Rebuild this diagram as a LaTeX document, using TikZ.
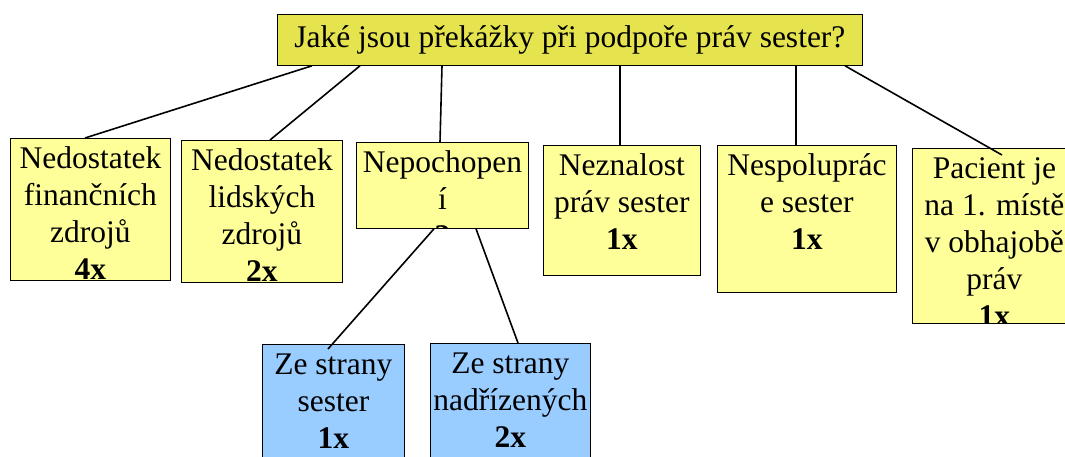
\documentclass[tikz,border=0pt]{standalone}
\usepackage{fontspec}
\setmainfont{Liberation Serif}
\usetikzlibrary{calc}
\definecolor{titlefill}{RGB}{230,228,78}
\definecolor{boxyellow}{RGB}{255,255,153}
\definecolor{boxblue}{RGB}{153,204,255}
\newcommand{\firstln}{\rule{0pt}{22pt}}
\begin{document}
\begin{tikzpicture}[x=1pt,y=-1pt,
  boxbase/.style={draw=black, line width=0.8pt, inner sep=0pt, anchor=north west},
  titlebox/.style={boxbase, fill=titlefill, font=\fontsize{31.5}{37}\selectfont, text height=21.5pt, text depth=6.5pt},
  ybox/.style={boxbase, fill=boxyellow},
  bbox/.style={boxbase, fill=boxblue},
  boxtext/.style={anchor=north, align=center, inner sep=0pt, minimum width=0pt, minimum height=0pt, draw=none, fill=none, font=\fontsize{31.5}{37}\selectfont},
  boxcontent/.style={path picture={\node[boxtext] at ([yshift=-8pt]path picture bounding box.north) {\firstln #1};}},
  conn/.style={line width=1.6pt, draw=black}]
\useasboundingbox (0,0) rectangle (1065,457);
\clip (0,0) rectangle (1065,457);
\fill[white] (0,0) rectangle (1065,457);

\node[titlebox, minimum width=585, minimum height=51] (t) at (277,14) {Jaké jsou překážky při podpoře práv sester?};

\node[ybox, minimum width=160, minimum height=142, boxcontent={Nedostatek\\finančních\\zdrojů\\\textbf{4x}}] (b1) at (10,138) {};
\node[ybox, minimum width=161, minimum height=142, boxcontent={Nedostatek\\lidských\\zdrojů\\\textbf{2x}}] (b2) at (181,140) {};
\node[ybox, minimum width=172, minimum height=86, boxcontent={Nepochopen\\í\\\textbf{?}}] (b3) at (356,142) {};
\node[ybox, minimum width=157, minimum height=130, boxcontent={Neznalost\\práv sester\\\textbf{1x}}] (b4) at (543,145) {};
\node[ybox, minimum width=179, minimum height=147, boxcontent={Nespoluprác\\e sester\\\textbf{1x}}] (b5) at (717,145) {};
\node[ybox, minimum width=164, minimum height=175, boxcontent={Pacient je\\na 1. místě\\v obhajobě\\práv\\\textbf{1x}}] (b6) at (912,148) {};
\node[bbox, minimum width=142, minimum height=130, boxcontent={Ze strany\\sester\\\textbf{1x}}] (b7) at (262,344) {};
\node[bbox, minimum width=160, minimum height=130, boxcontent={Ze strany\\nadřízených\\\textbf{2x}}] (b8) at (430,343) {};

\draw[conn] ([xshift=35pt]t.south west) -- ([xshift=75pt]b1.north west);
\draw[conn] ([xshift=83pt]t.south west) -- ([xshift=89pt]b2.north west);
\draw[conn] ([xshift=165pt]t.south west) -- ([xshift=84pt]b3.north west);
\draw[conn] ([xshift=343pt]t.south west) -- ([xshift=77pt]b4.north west);
\draw[conn] ([xshift=519pt]t.south west) -- ([xshift=79pt]b5.north west);
\draw[conn] ([xshift=568pt]t.south west) -- ([shift={(90,7)}]b6.north west);
\draw[conn] ([xshift=78pt]b3.south west) -- ([shift={(66,5)}]b7.north west);
\draw[conn] ([xshift=120pt]b3.south west) -- ([xshift=88pt]b8.north west);
\end{tikzpicture}
\end{document}
